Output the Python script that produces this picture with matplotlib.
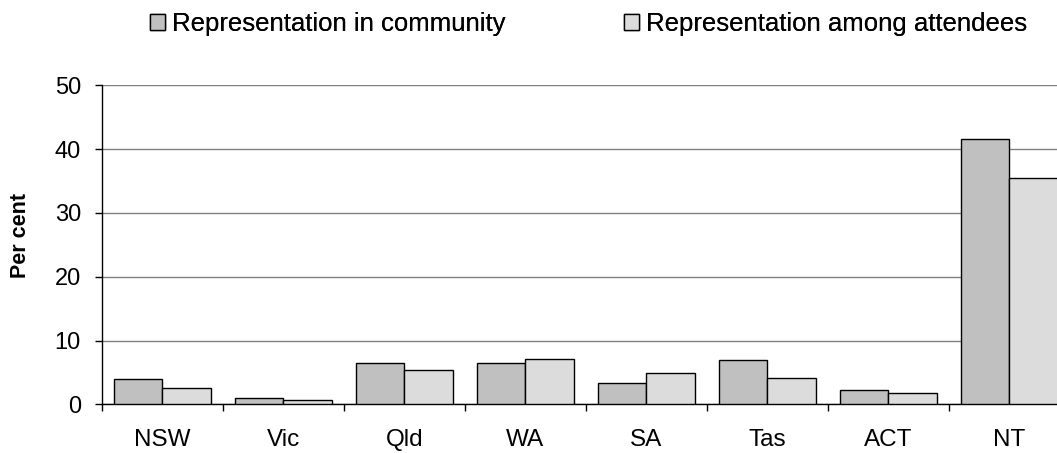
import matplotlib
matplotlib.use("Agg")
import matplotlib.pyplot as plt
import numpy as np

states = ["NSW", "Vic", "Qld", "WA", "SA", "Tas", "ACT", "NT"]
community = [4.0, 1.0, 6.5, 6.4, 3.3, 7.0, 2.2, 41.6]
attendees = [2.6, 0.7, 5.3, 7.1, 4.9, 4.2, 1.7, 35.5]
series_labels = ["Representation in community", "Representation among attendees"]
yticks = [0, 10, 20, 30, 40, 50]

plt.rcParams["font.family"] = ["Liberation Sans", "DejaVu Sans"]

W, H = 1057, 453
fig = plt.figure(figsize=(W / 100, H / 100), dpi=100)
left, right, top, bottom = 101.7, 1069.7, 85.3, 404.3
ax = fig.add_axes([left / W, 1 - bottom / H, (right - left) / W, (bottom - top) / H])

x = np.arange(len(states))
bw = 0.4
b1 = ax.bar(x - bw / 2, community, width=bw, color="#c0c0c0", edgecolor="black",
            linewidth=1, zorder=3, label=series_labels[0])
b2 = ax.bar(x + bw / 2, attendees, width=bw, color="#dcdcdc", edgecolor="black",
            linewidth=1, zorder=3, label=series_labels[1])

ax.set_xlim(-0.5, len(states) - 0.5)
ax.set_ylim(0, 50)
ax.set_yticks(yticks)
ax.set_yticklabels([str(v) for v in yticks], fontsize=17)
ax.yaxis.grid(True, color="#808080", linewidth=1, zorder=0)
ax.set_axisbelow(True)

ax.set_xticks(x)
ax.set_xticklabels(states, fontsize=17.5)
ax.tick_params(axis="x", length=0, pad=17.5)
ax.set_xticks(np.arange(len(states) + 1) - 0.5, minor=True)
ax.tick_params(axis="x", which="minor", length=5, width=1, direction="out")
ax.tick_params(axis="y", length=5, width=1, direction="out", pad=10)

for s in ["top", "right"]:
    ax.spines[s].set_visible(False)
ax.spines["left"].set_linewidth(1)
ax.spines["bottom"].set_linewidth(1)

fig.text(21 / W, 1 - 236 / H, "Per cent", rotation=90, fontsize=15.5,
         fontweight="bold", ha="center", va="center")

legend_y = 1 - 24 / H
for handle, label, lx in [(b1, series_labels[0], 150), (b2, series_labels[1], 624)]:
    leg = fig.legend([handle], [label], loc="center left",
                     bbox_to_anchor=(lx / W, legend_y), frameon=False, fontsize=18.5,
                     handlelength=0.58, handleheight=0.58, handletextpad=0.28,
                     borderpad=0, borderaxespad=0)
    fig.add_artist(leg)

fig.savefig("out.png", dpi=100)
